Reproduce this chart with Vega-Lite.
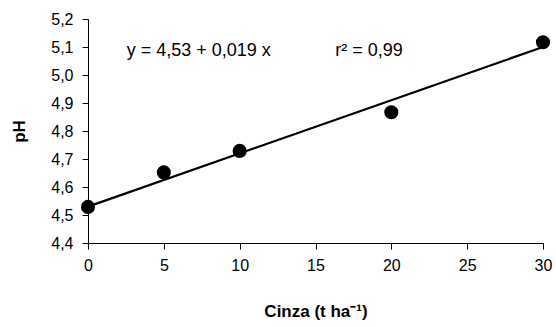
{
  "$schema": "https://vega.github.io/schema/vega-lite/v6.json",
  "autosize": "none",
  "width": 455,
  "height": 224,
  "padding": {"left": 88, "top": 19, "right": 13, "bottom": 84},
  "background": "white",
  "config": {
    "font": "Liberation Sans",
    "locale": {"number": {"decimal": ",", "thousands": ".", "grouping": [3], "currency": ["", ""]}},
    "view": {"stroke": null},
    "axis": {"grid": false, "domainColor": "black", "tickColor": "black", "labelColor": "black", "titleColor": "black", "labelFont": "Liberation Sans", "titleFont": "Liberation Sans", "labelFontSize": 16, "titleFontSize": 17, "tickSize": 6, "labelOverlap": false}
  },
  "datasets": {
    "pts": [
      {"cinza": 0, "ph": 4.529},
      {"cinza": 5, "ph": 4.652},
      {"cinza": 10, "ph": 4.729},
      {"cinza": 20, "ph": 4.867},
      {"cinza": 30, "ph": 5.117}
    ],
    "fit": [
      {"cinza": 0, "ph": 4.53},
      {"cinza": 30, "ph": 5.10}
    ],
    "lab": [
      {"cinza": 2.55, "ph": 5.068, "t": "y = 4,53 + 0,019 x"},
      {"cinza": 16.3, "ph": 5.068, "t": "r² = 0,99"}
    ]
  },
  "encoding": {
    "x": {"field": "cinza", "type": "quantitative", "scale": {"domain": [0, 30], "nice": false},
      "axis": {"tickCount": 6, "title": "Cinza (t ha⁻¹)", "titleFontWeight": "bold", "labelPadding": 8, "titlePadding": 30, "labelOverlap": false, "labelFlush": false}},
    "y": {"field": "ph", "type": "quantitative", "scale": {"domain": [4.4, 5.2], "nice": false, "zero": false},
      "axis": {"tickCount": 8, "format": ".1f", "title": "pH", "titleFontWeight": "bold", "labelPadding": 9, "titlePadding": 22, "labelOverlap": false, "labelFlush": false}}
  },
  "layer": [
    {
      "data": {"name": "fit"},
      "mark": {"type": "line", "color": "black", "strokeWidth": 2.2}
    },
    {
      "data": {"name": "pts"},
      "mark": {"type": "point", "filled": true, "color": "black", "opacity": 1, "size": 200}
    },
    {
      "data": {"name": "lab"},
      "mark": {"type": "text", "align": "left", "baseline": "alphabetic", "fontSize": 18, "font": "Liberation Sans", "color": "black"},
      "encoding": {
        "text": {"field": "t"}
      }
    }
  ]
}
